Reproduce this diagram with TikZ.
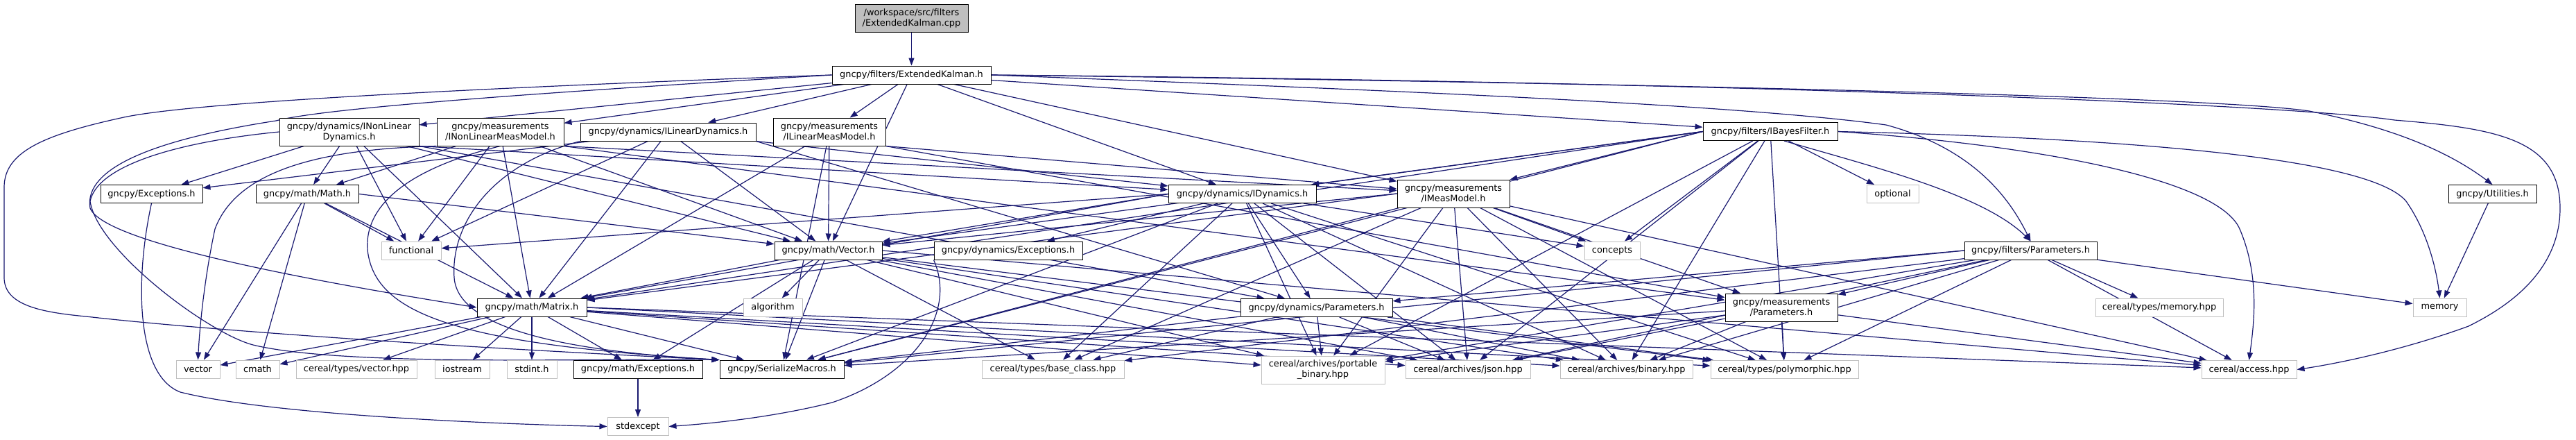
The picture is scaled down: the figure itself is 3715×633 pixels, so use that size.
\documentclass[tikz,border=0pt]{standalone}
\usepackage{fontspec}
\setmainfont{DejaVu Sans}
\usetikzlibrary{arrows.meta,backgrounds}
\definecolor{edgeblue}{HTML}{191970}
\definecolor{sysgray}{HTML}{BFBFBF}
\tikzset{
  dep/.style={-{Triangle[length=11pt,width=8pt]},draw=edgeblue,line width=1.2pt},
  hdr/.style={draw=black,line width=1pt,fill=white,inner sep=0pt,
    minimum height=26pt,align=center,font=\fontsize{12.9}{15}\selectfont},
  hdrtwo/.style={hdr,minimum height=40pt},
  sys/.style={hdr,draw=sysgray},
  systwo/.style={sys,minimum height=40pt},
  srcfile/.style={hdrtwo,fill=sysgray},
}
\begin{document}
\begin{tikzpicture}[x=1pt,y=-1pt]
\useasboundingbox (0,0) rectangle (3715,633);
% top
\node[srcfile,minimum width=163pt] (root) at (1314.5,26) {/workspace/src/filters\\/ExtendedKalman.cpp};
\node[hdr,minimum width=229pt] (ek) at (1314.5,108) {gncpy/filters/ExtendedKalman.h};
% interfaces
\node[hdrtwo,minimum width=201pt] (inld) at (503.5,190) {gncpy/dynamics/INonLinear\\Dynamics.h};
\node[hdrtwo,minimum width=183pt] (inlmm) at (721.5,190) {gncpy/measurements\\/INonLinearMeasModel.h};
\node[hdr,minimum width=253pt] (ild) at (963.5,190) {gncpy/dynamics/ILinearDynamics.h};
\node[hdrtwo,minimum width=162pt] (ilmm) at (1196,190) {gncpy/measurements\\/ILinearMeasModel.h};
\node[hdr,minimum width=194pt] (ibf) at (2553,189.5) {gncpy/filters/IBayesFilter.h};
% third row
\node[hdr,minimum width=147pt] (exc) at (218.5,279.5) {gncpy/Exceptions.h};
\node[hdr,minimum width=148pt] (math) at (443,279.5) {gncpy/math/Math.h};
\node[hdr,minimum width=213pt] (idyn) at (1791.5,279.5) {gncpy/dynamics/IDynamics.h};
\node[hdrtwo,minimum width=162pt] (imm) at (2096,279) {gncpy/measurements\\/IMeasModel.h};
\node[sys,minimum width=75pt] (optional) at (2729.5,279.5) {optional};
\node[hdr,minimum width=127pt] (util) at (3594.5,279.5) {gncpy/Utilities.h};
% fourth row
\node[sys,minimum width=86pt] (functional) at (593,361) {functional};
\node[hdr,minimum width=155pt] (vec) at (1194.5,361) {gncpy/math/Vector.h};
\node[hdr,minimum width=214pt] (dexc) at (1454,361) {gncpy/dynamics/Exceptions.h};
\node[sys,minimum width=80pt] (concepts) at (2325,361) {concepts};
\node[hdr,minimum width=191pt] (fpar) at (2928.5,361) {gncpy/filters/Parameters.h};
% fifth row
\node[hdr,minimum width=158pt] (mat) at (767,443) {gncpy/math/Matrix.h};
\node[sys,minimum width=85pt] (algorithm) at (1114.5,443) {algorithm};
\node[hdr,minimum width=219pt] (dpar) at (1898.5,443.5) {gncpy/dynamics/Parameters.h};
\node[hdrtwo,minimum width=162pt] (mpar) at (2569,443) {gncpy/measurements\\/Parameters.h};
\node[sys,minimum width=184pt] (memhpp) at (3114,443) {cereal/types/memory.hpp};
\node[sys,minimum width=77pt] (memory) at (3518.5,443) {memory};
% leaves
\node[sys,minimum width=63pt] (vector) at (285.5,532) {vector};
\node[sys,minimum width=63pt] (cmath) at (371.5,532) {cmath};
\node[sys,minimum width=174pt] (vechpp) at (514,532) {cereal/types/vector.hpp};
\node[sys,minimum width=79pt] (iostream) at (666.5,532) {iostream};
\node[sys,minimum width=72pt] (stdint) at (767,532) {stdint.h};
\node[hdr,minimum width=186pt] (mexc) at (920,532) {gncpy/math/Exceptions.h};
\node[hdr,minimum width=179pt] (ser) at (1127.5,532) {gncpy/SerializeMacros.h};
\node[sys,minimum width=205pt] (basecls) at (1518.5,532) {cereal/types/base\_class.hpp};
\node[systwo,minimum width=178pt] (pbin) at (1908,533) {cereal/archives/portable\\\_binary.hpp};
\node[sys,minimum width=180pt] (json) at (2117,532.5) {cereal/archives/json.hpp};
\node[sys,minimum width=191pt] (binary) at (2345.5,532.5) {cereal/archives/binary.hpp};
\node[sys,minimum width=213pt] (poly) at (2573.5,532.5) {cereal/types/polymorphic.hpp};
\node[sys,minimum width=137pt] (access) at (3243.5,532.5) {cereal/access.hpp};
\node[sys,minimum width=88pt] (stdexcept) at (920,614.5) {stdexcept};
\begin{scope}[on background layer]
% straight includes
\foreach \a/\b in {root/ek,ek/inld,ek/inlmm,ek/ild,ek/ilmm,ek/idyn,ek/imm,ek/ibf,ek/vec,
  inld/math,inld/exc,inld/functional,inld/vec,inld/mat,
  inlmm/math,inlmm/functional,inlmm/vec,inlmm/mat,
  ild/exc,ild/functional,ild/vec,ild/mat,
  ilmm/vec,ilmm/mat,ilmm/ser,
  math/functional,math/vector,math/cmath,math/mat}
  \draw[dep] (\a) -- (\b);
\foreach \a/\b in {idyn/dexc,idyn/dpar,idyn/concepts,idyn/ser,
  idyn/basecls,idyn/pbin,idyn/json,idyn/binary,idyn/poly,
  imm/mpar,imm/concepts,imm/ser,imm/basecls,imm/pbin,imm/json,imm/binary,imm/poly,imm/access,
  ibf/optional,ibf/concepts,ibf/pbin,ibf/json,ibf/binary,ibf/poly}
  \draw[dep] (\a) -- (\b);
\foreach \a/\b in {fpar/mpar,fpar/memhpp,fpar/memory,fpar/pbin,fpar/json,fpar/binary,
  fpar/poly,fpar/access,fpar/basecls,
  dpar/ser,dpar/basecls,dpar/pbin,dpar/json,dpar/binary,dpar/poly,
  mpar/ser,mpar/pbin,mpar/json,mpar/binary,mpar/poly,mpar/access,
  vec/mat,vec/algorithm,vec/mexc,vec/ser,vec/basecls,vec/pbin,vec/json,vec/binary,vec/poly,
  mat/vector,mat/cmath,mat/vechpp,mat/iostream,mat/stdint,mat/mexc,mat/ser,mat/pbin,mat/json,
  mat/binary,mexc/stdexcept,util/memory}
  \draw[dep] (\a) -- (\b);
% leftward fans
\foreach \a/\b in {ibf/idyn,ibf/imm,ibf/vec,ibf/mat,ibf/ser,idyn/functional,idyn/vec,idyn/mat,
  imm/vec,imm/mat,fpar/dpar,fpar/ser}
  \draw[dep] (\a.west) -- (\b);
% rightward fans
\foreach \a/\b in {inld/idyn,inld/dpar,inlmm/imm,inlmm/mpar,ild/idyn,ild/dpar,ilmm/imm,ilmm/mpar}
  \draw[dep] (\a.south east) -- (\b);
\foreach \a/\b in {math/vec,vec/access,mat/access,mat/poly}
  \draw[dep] (\a.east) -- (\b);
% routed includes
\draw[dep] ([xshift=20pt]ibf.south) .. controls (2700,240) and (2860,280) .. (fpar.north);
\draw[dep] (ek.west) .. controls (600,130) and (260,150) .. (174,170)
  .. controls (60,195) and (6,220) .. (6,270) -- (6,400)
  .. controls (6,440) and (60,450) .. (124,456)
  .. controls (300,476) and (650,500) .. (ser.north west);
\draw[dep] (ek.west) .. controls (700,138) and (460,158) .. (398,174)
  .. controls (230,200) and (120,240) .. (130,300)
  .. controls (150,350) and (450,405) .. (mat.west);
\draw[dep] (inld.west) .. controls (250,205) and (140,240) .. (130,290)
  .. controls (140,360) and (300,480) .. (365,497)
  .. controls (500,530) and (900,515) .. (ser.north west);
\draw[dep] (inlmm.south west) .. controls (450,215) and (340,250) .. (310,330)
  .. controls (295,400) and (288,470) .. (vector.north);
\draw[dep] (inlmm.south) .. controls (600,240) and (525,290) .. (530,360)
  .. controls (540,450) and (650,495) .. (ser.north west);
\draw[dep] (ild.south west) .. controls (700,240) and (650,330) .. (655,400)
  .. controls (660,470) and (800,505) .. (ser.north west);
\draw[dep] (exc.south) .. controls (195,400) and (195,540) .. (260,565)
  .. controls (400,600) and (750,612) .. (stdexcept.west);
\draw[dep] (dexc.south west) .. controls (1380,450) and (1320,540) .. (1200,580)
  .. controls (1100,605) and (1000,612) .. (stdexcept.east);
\draw[dep] (ek.east) .. controls (2400,120) and (3200,140) .. (3330,160)
  .. controls (3430,180) and (3520,210) .. (util.north);
\draw[dep] (ek.east) .. controls (2500,118) and (3300,150) .. (3453,173)
  .. controls (3600,185) and (3692,200) .. (3692,300)
  .. controls (3692,400) and (3600,450) .. (3560,470)
  .. controls (3450,510) and (3350,527) .. (access.east);
\draw[dep] (ek.east) .. controls (2000,130) and (2500,150) .. (2720,180)
  .. controls (2850,215) and (2900,290) .. (fpar.north);
\draw[dep] (ibf.east) .. controls (3100,200) and (3420,230) .. (3470,290)
  .. controls (3505,340) and (3515,400) .. (memory.north);
\draw[dep] (ibf.east) .. controls (2950,210) and (3200,260) .. (3230,330)
  .. controls (3260,400) and (3250,470) .. (access.north);
\end{scope}
\end{tikzpicture}
\end{document}
